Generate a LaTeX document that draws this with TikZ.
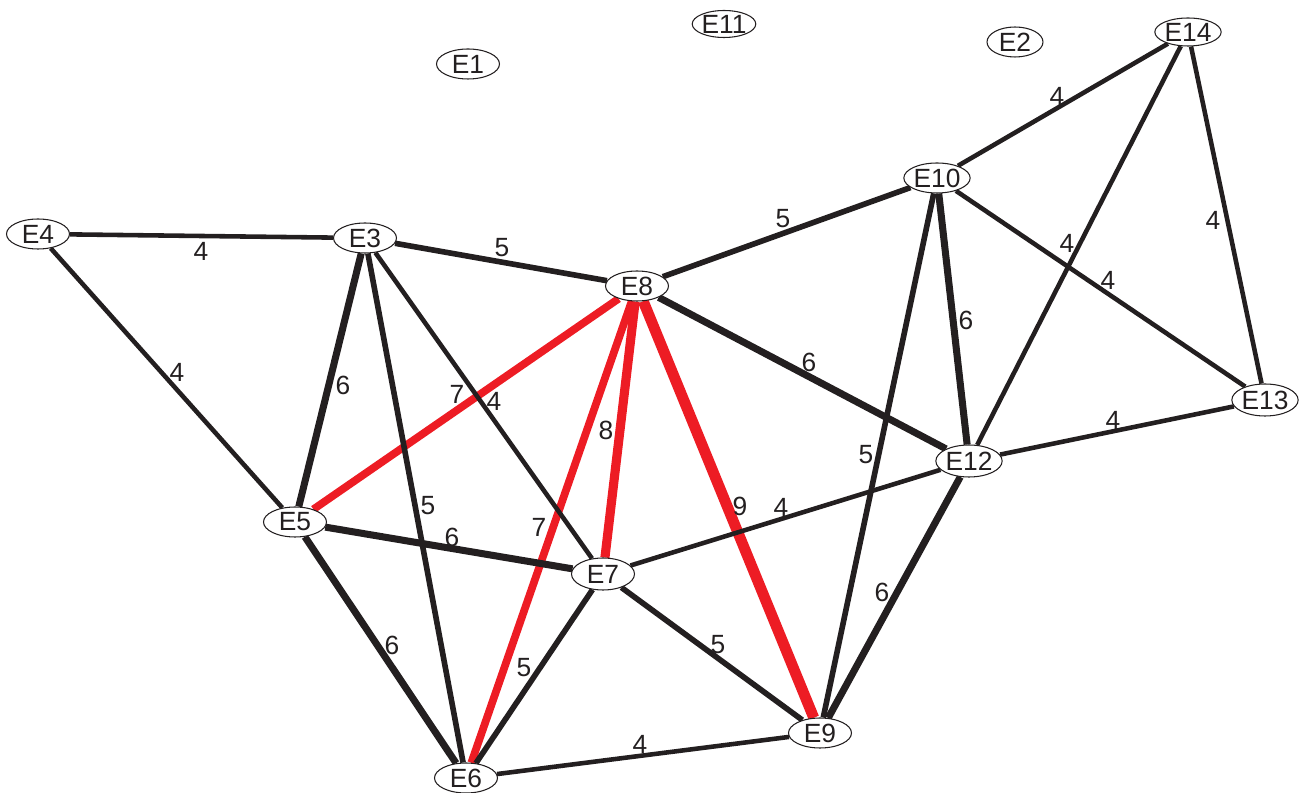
\documentclass[tikz,border=0pt]{standalone}
\usepackage{fontspec}
\setmainfont{Liberation Sans}
\usetikzlibrary{shapes.geometric}
\definecolor{ink}{HTML}{231F20}
\definecolor{hl}{HTML}{ED1C24}
\pgfdeclarelayer{bg}
\pgfsetlayers{bg,main}
\begin{document}
\begin{tikzpicture}[x=0.02cm,y=-0.02cm,
 vert/.style={ellipse,draw=ink,line width=0.6pt,fill=white,inner sep=0pt,minimum width=1.26cm,minimum height=0.6cm,text=ink,font=\fontsize{15}{17}\selectfont},
 lbl/.style={text=ink,font=\fontsize{15}{17}\selectfont,inner sep=0pt},
 wa/.style={draw=ink,line width=2.6pt},
 wb/.style={draw=ink,line width=3.2pt},
 wc/.style={draw=ink,line width=4pt},
 ra/.style={draw=hl,line width=4.4pt},
 rb/.style={draw=hl,line width=5.2pt},
 rc/.style={draw=hl,line width=6.2pt}]
\useasboundingbox (0,0) rectangle (1303,793);

\node[vert] (E1) at (468,64) {E1};
\node[vert,minimum height=0.54cm] (E11) at (724,24) {E11};
\node[vert,minimum width=1.12cm] (E2) at (1015,42) {E2};
\node[vert,minimum height=0.56cm] (E14) at (1188,32) {E14};
\node[vert] (E10) at (937,178) {E10};
\node[vert] (E4) at (38,234) {E4};
\node[vert] (E3) at (365,238) {E3};
\node[vert] (E8) at (637,286) {E8};
\node[vert,minimum height=0.64cm] (E13) at (1265,400) {E13};
\node[vert,minimum height=0.64cm] (E12) at (969,461) {E12};
\node[vert] (E5) at (295,522) {E5};
\node[vert,minimum height=0.64cm] (E7) at (603,574) {E7};
\node[vert] (E9) at (820,733) {E9};
\node[vert] (E6) at (466,778) {E6};

\begin{pgfonlayer}{bg}
\draw[ra] (E8) -- (E5);
\draw[ra] (E8) -- (E6);
\draw[rb] (E8) -- (E7);
\draw[rc] (E8) -- (E9);
\draw[wa] (E4) -- (E3);
\draw[wa] (E4) -- (E5);
\draw[wb] (E3) -- (E8);
\draw[wc] (E3) -- (E5);
\draw[wb] (E3) -- (E6);
\draw[wa] (E3) -- (E7);
\draw[wb] (E8) -- (E10);
\draw[wc] (E8) -- (E12);
\draw[wc] (E5) -- (E7);
\draw[wc] (E5) -- (E6);
\draw[wb] (E7) -- (E6);
\draw[wb] (E7) -- (E9);
\draw[wa] (E7) -- (E12);
\draw[wa] (E6) -- (E9);
\draw[wb] (E9) -- (E10);
\draw[wc] (E9) -- (E12);
\draw[wc] (E10) -- (E12);
\draw[wa] (E10) -- (E14);
\draw[wa] (E10) -- (E13);
\draw[wa] (E12) -- (E14);
\draw[wa] (E12) -- (E13);
\draw[wa] (E14) -- (E13);
\end{pgfonlayer}

\node[lbl] (l1) at (201,251) {4};
\node[lbl] (l2) at (177,372) {4};
\node[lbl] (l3) at (502,248) {5};
\node[lbl] (l4) at (343,385) {6};
\node[lbl] (l5) at (428,506) {5};
\node[lbl] (l6) at (494,401) {4};
\node[lbl] (l7) at (457,394) {7};
\node[lbl] (l8) at (539,527) {7};
\node[lbl] (l9) at (606,430) {8};
\node[lbl] (l10) at (740,506) {9};
\node[lbl] (l11) at (783,219) {5};
\node[lbl] (l12) at (809,362) {6};
\node[lbl] (l13) at (452,537) {6};
\node[lbl] (l14) at (392,645) {6};
\node[lbl] (l15) at (524,668) {5};
\node[lbl] (l16) at (718,645) {5};
\node[lbl] (l17) at (781,507) {4};
\node[lbl] (l18) at (640,744) {4};
\node[lbl] (l19) at (866,455) {5};
\node[lbl] (l20) at (882,592) {6};
\node[lbl] (l21) at (966,320) {6};
\node[lbl] (l22) at (1057,96) {4};
\node[lbl] (l23) at (1108,280) {4};
\node[lbl] (l24) at (1067,243) {4};
\node[lbl] (l25) at (1113,420) {4};
\node[lbl] (l26) at (1213,220) {4};
\end{tikzpicture}
\end{document}
